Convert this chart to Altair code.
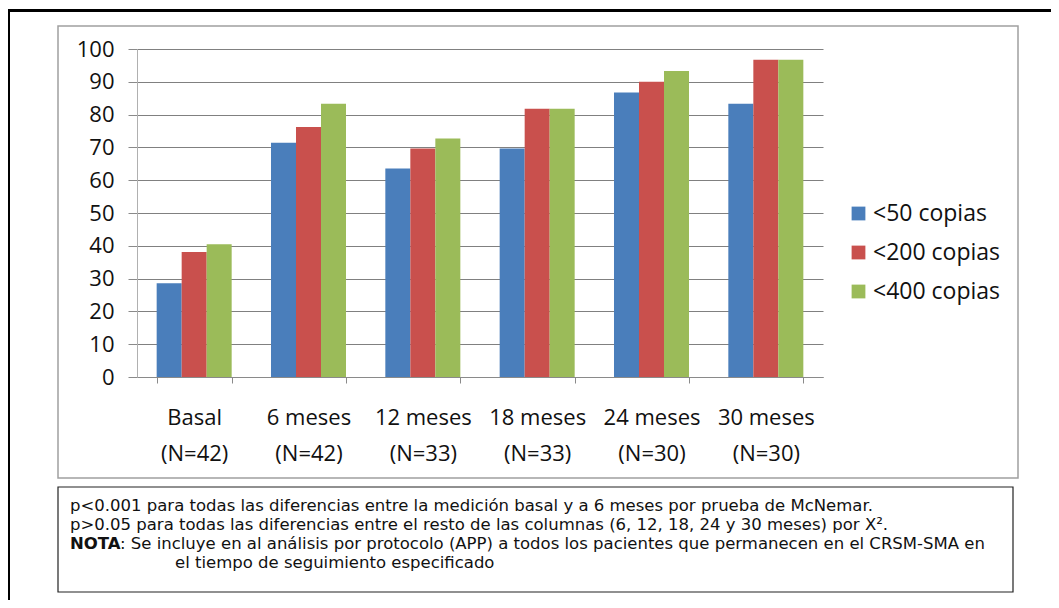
import altair as alt
import pandas as pd

# ---- data ----
categories = ["Basal", "6 meses", "12 meses", "18 meses", "24 meses", "30 meses"]
n_values = [42, 42, 33, 33, 30, 30]
series = ["<50 copias", "<200 copias", "<400 copias"]
lt50 = [28.6, 71.4, 63.6, 69.7, 86.7, 83.3]
lt200 = [38.1, 76.2, 69.7, 81.8, 90.0, 96.7]
lt400 = [40.5, 83.3, 72.7, 81.8, 93.3, 96.7]
colors = ["#4A7EBB", "#C9504D", "#9BBB59"]
y_ticks = list(range(0, 101, 10))

note_lines = [
    "p<0.001 para todas las diferencias entre la medición basal y a 6 meses por prueba de McNemar.",
    "p>0.05 para todas las diferencias entre el resto de las columnas (6, 12, 18, 24 y 30 meses) por X².",
]
note_bold = "NOTA"
note_rest = ": Se incluye en al análisis por protocolo (APP) a todos los pacientes que permanecen en el CRSM-SMA en"
note_last = "el tiempo de seguimiento especificado"

FONT = "Open Sans"
NOTE_FONT = "DejaVu Sans"

labels = [f"{c}|(N={n})" for c, n in zip(categories, n_values)]
rows = []
for s, vals in zip(series, [lt50, lt200, lt400]):
    for lab, v in zip(labels, vals):
        rows.append({"cat": lab, "serie": s, "valor": v})
df = pd.DataFrame(rows)

W, H = 686, 328
one = alt.Data(values=[{}])

bars = alt.Chart(df).mark_bar().encode(
    x=alt.X("cat:N", sort=labels, title=None,
            scale=alt.Scale(paddingInner=0.344, paddingOuter=0.172),
            axis=alt.Axis(labelExpr="split(datum.label, '|')", labelAngle=0,
                          labelFont=FONT, labelFontSize=22, labelColor="#111",
                          labelLineHeight=36, labelPadding=24,
                          tickBand="extent", tickSize=6, tickColor="#8a8a8a",
                          domainColor="#8a8a8a", grid=False)),
    xOffset=alt.XOffset("serie:N", sort=series, scale=alt.Scale(paddingInner=0, paddingOuter=0)),
    y=alt.Y("valor:Q", title=None,
            scale=alt.Scale(domain=[0, 100], nice=False),
            axis=alt.Axis(values=y_ticks, labelFont=FONT, labelFontSize=22, labelColor="#111",
                          tickSize=9, tickColor="#8a8a8a", labelPadding=14,
                          domainColor="#b0b0b0", gridColor="#808080", gridWidth=1)),
    color=alt.Color("serie:N", sort=series,
                    scale=alt.Scale(domain=series, range=colors),
                    legend=alt.Legend(title=None, orient="none", legendX=710, legendY=153,
                                      symbolType="square", symbolSize=190, symbolStrokeWidth=0,
                                      labelFont=FONT, labelFontSize=23, labelColor="#111",
                                      rowPadding=15, labelOffset=3, padding=0)),
)

outer_top = alt.Chart(one).mark_rule(color="black", strokeWidth=3).encode(
    x=alt.value(-129), x2=alt.value(914), y=alt.value(-38.5))
outer_left = alt.Chart(one).mark_rule(color="black", strokeWidth=3).encode(
    x=alt.value(-128.5), y=alt.value(-40), y2=alt.value(551))
frame = alt.Chart(one).mark_rect(fill="white", fillOpacity=0, stroke="#a0a0a0", strokeWidth=1.5).encode(
    x=alt.value(-79), x2=alt.value(881), y=alt.value(-23), y2=alt.value(429))
notebox = alt.Chart(one).mark_rect(fill="white", fillOpacity=0, stroke="#222", strokeWidth=1.2).encode(
    x=alt.value(-79), x2=alt.value(876), y=alt.value(438), y2=alt.value(543))


def note(text, x, y, bold=False):
    return alt.Chart(alt.Data(values=[{"t": text}])).mark_text(
        align="left", baseline="middle", font=NOTE_FONT, fontSize=16.5,
        fontWeight="bold" if bold else "normal", color="#111").encode(
        x=alt.value(x), y=alt.value(y), text="t:N")


notes = [
    note(note_lines[0], -67, 457),
    note(note_lines[1], -67, 476),
    note(note_bold, -67, 495, bold=True),
    note(note_rest, -17, 495),
    note(note_last, 38, 514),
]

chart = alt.layer(
    frame, notebox, bars, outer_top, outer_left, *notes
).properties(
    width=W, height=H,
    padding={"left": 129, "top": 41, "right": 228, "bottom": 223},
    autosize=alt.AutoSizeParams(type="none"),
    background="white",
).configure_view(strokeWidth=0)

chart.save("out.html", embed_options={"renderer": "svg", "actions": False})
